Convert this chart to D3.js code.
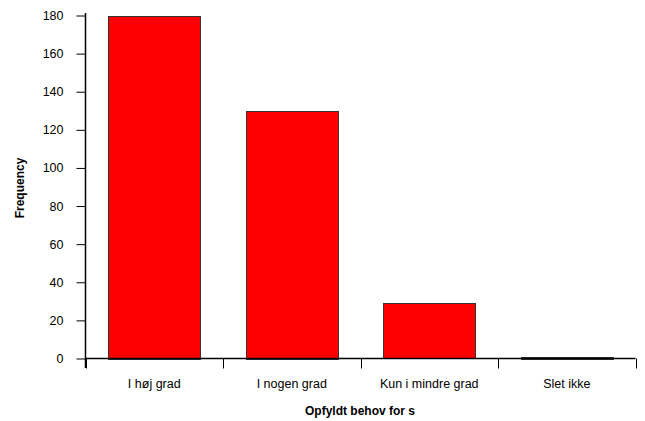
<!DOCTYPE html>
<html>
<head>
<meta charset="utf-8">
<script src="https://cdn.jsdelivr.net/npm/d3@7"></script>
<style>
  body { margin: 0; background: #fff; }
  text { font-family: "Liberation Sans", Arial, sans-serif; }
</style>
</head>
<body>
<script>
// data
var categories = ['I høj grad', 'I nogen grad', 'Kun i mindre grad', 'Slet ikke']
var counts = [180, 130, 29, 1]
var yTicks = [0, 20, 40, 60, 80, 100, 120, 140, 160, 180]

var width = 645,
    height = 421

var svg = d3.select('body').append('svg')
    .attr('width', width)
    .attr('height', height)

var x = d3.scaleBand()
    .domain(categories)
    .range([85.5, 635.5])
    .paddingInner(0.33)
    .paddingOuter(0.165)

var y = d3.scaleLinear()
    .domain([0, 180])
    .range([358.5, 15.5])

// bars
svg.append('g').selectAll('rect')
    .data(counts)
    .enter().append('rect')
      .attr('x', (d, i) => Math.round(x(categories[i])) + 0.5)
      .attr('y', d => Math.round(y(d)) + 0.5)
      .attr('width', Math.round(x.bandwidth()))
      .attr('height', d => Math.round(y(0) - y(d)))
      .attr('fill', '#ff0000')
      .attr('stroke', '#333')
      .attr('stroke-width', 1)

// y axis
var yAxis = d3.axisLeft(y)
    .tickValues(yTicks)
    .tickSize(9)
    .tickPadding(13)

var gy = svg.append('g')
    .attr('transform', 'translate(85.5,0)')
    .call(yAxis)
gy.select('.domain').remove()
gy.selectAll('.tick line').attr('stroke', '#000')
gy.selectAll('.tick text')
    .attr('font-size', 12.5)
    .attr('fill', '#000')
    .attr('font-family', '"Liberation Sans", Arial, sans-serif')
gy.append('line')
    .attr('x1', 0).attr('x2', 0)
    .attr('y1', 13).attr('y2', 368)
    .attr('stroke', '#000')
    .attr('stroke-width', 1.5)

// x axis: ticks at category boundaries
var bounds = categories.map(c => x(c) - x.step() * x.paddingInner() / 2)
bounds.push(635.5)

var gx = svg.append('g')
gx.append('line')
    .attr('x1', 85.5).attr('x2', 635.5)
    .attr('y1', y(0)).attr('y2', y(0))
    .attr('stroke', '#000')
    .attr('stroke-width', 1.5)
gx.selectAll('line.tick')
    .data(bounds)
    .enter().append('line')
      .attr('class', 'tick')
      .attr('x1', d => Math.round(d) + 0.5)
      .attr('x2', d => Math.round(d) + 0.5)
      .attr('y1', y(0)).attr('y2', y(0) + 10)
      .attr('stroke', '#000')
gx.selectAll('text')
    .data(categories)
    .enter().append('text')
      .attr('x', d => x(d) + x.bandwidth() / 2)
      .attr('y', 388)
      .attr('text-anchor', 'middle')
      .attr('font-size', 12.5)
      .text(d => d)

// titles
svg.append('text')
    .attr('x', 360)
    .attr('y', 415)
    .attr('text-anchor', 'middle')
    .attr('font-size', 12)
    .attr('font-weight', 'bold')
    .text('Opfyldt behov for s')

svg.append('text')
    .attr('transform', 'translate(24,188) rotate(-90)')
    .attr('text-anchor', 'middle')
    .attr('font-size', 12)
    .attr('font-weight', 'bold')
    .text('Frequency')
</script>
</body>
</html>
